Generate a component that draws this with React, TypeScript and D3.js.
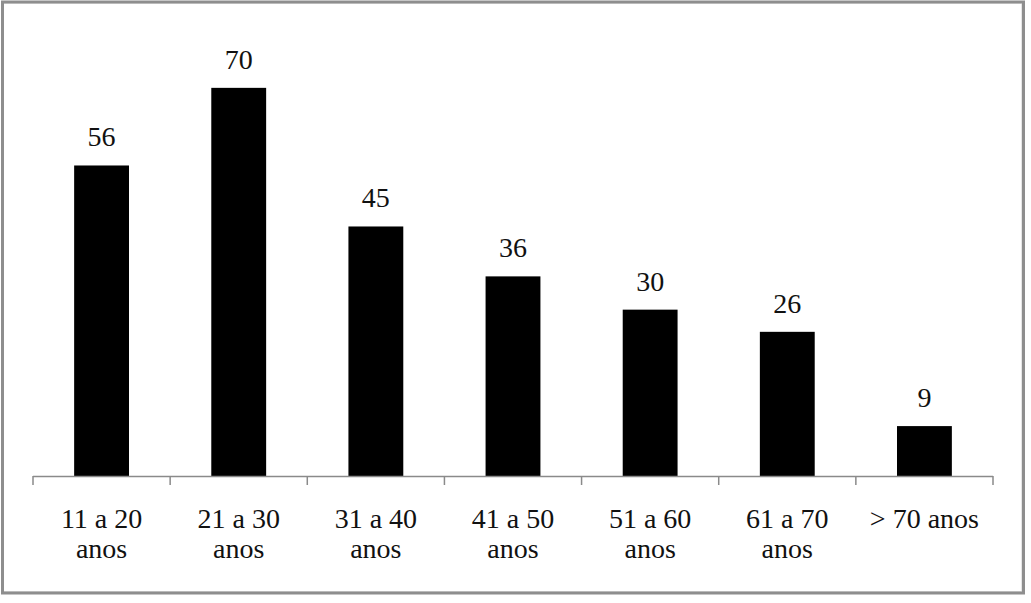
import React, { useEffect, useRef } from "react";
import * as d3 from "d3";

const categories = [
  ["11 a 20", "anos"],
  ["21 a 30", "anos"],
  ["31 a 40", "anos"],
  ["41 a 50", "anos"],
  ["51 a 60", "anos"],
  ["61 a 70", "anos"],
  ["> 70 anos"],
];
const values = [56, 70, 45, 36, 30, 26, 9];

const App = () => {
  const ref = useRef<SVGSVGElement>(null);

  useEffect(() => {
    const width = 1031;
    const height = 603;
    const svg = d3.select(ref.current);
    svg.selectAll("*").remove();

    svg.attr("width", width).attr("height", height);

    svg
      .append("rect")
      .attr("width", width)
      .attr("height", height)
      .attr("fill", "#fff");

    // frame
    svg
      .append("rect")
      .attr("x", 3.5)
      .attr("y", 3.5)
      .attr("width", 1018)
      .attr("height", 588)
      .attr("fill", "none")
      .attr("stroke", "#e6e6e6")
      .attr("stroke-width", 1);
    svg
      .append("rect")
      .attr("x", 2.5)
      .attr("y", 2)
      .attr("width", 1021)
      .attr("height", 591)
      .attr("fill", "none")
      .attr("stroke", "#8e8e8e")
      .attr("stroke-width", 3);

    const keys = categories.map((c) => c.join(" "));

    const x = d3
      .scaleBand<string>()
      .domain(keys)
      .range([33, 993])
      .paddingInner(0.6)
      .paddingOuter(0.3);

    const y = d3.scaleLinear().domain([0, 80]).range([476, 32.4]);

    const font = "Liberation Serif";

    // bars
    svg
      .selectAll("rect.bar")
      .data(values)
      .join("rect")
      .attr("class", "bar")
      .attr("x", (_, i) => x(keys[i])!)
      .attr("y", (d) => y(d))
      .attr("width", x.bandwidth())
      .attr("height", (d) => y(0) - y(d))
      .attr("fill", "#000");

    // value labels
    svg
      .selectAll("text.val")
      .data(values)
      .join("text")
      .attr("class", "val")
      .attr("x", (_, i) => x(keys[i])! + x.bandwidth() / 2)
      .attr("y", (d) => y(d) - 19)
      .attr("text-anchor", "middle")
      .attr("font-family", font)
      .attr("font-size", 28)
      .attr("fill", "#111")
      .text((d) => d);

    // axis line + ticks
    const axis = svg.append("g").attr("stroke", "#8a8a8a").attr("stroke-width", 1.5);
    axis
      .append("line")
      .attr("x1", 33)
      .attr("x2", 993)
      .attr("y1", y(0) + 0.5)
      .attr("y2", y(0) + 0.5);
    const step = x.step();
    d3.range(keys.length + 1).forEach((i) => {
      axis
        .append("line")
        .attr("x1", 33 + i * step)
        .attr("x2", 33 + i * step)
        .attr("y1", y(0))
        .attr("y2", y(0) + 9);
    });

    // category labels
    categories.forEach((lines, i) => {
      const t = svg
        .append("text")
        .attr("text-anchor", "middle")
        .attr("font-family", font)
        .attr("font-size", 28)
        .attr("fill", "#111");
      lines.forEach((ln, j) => {
        t.append("tspan")
          .attr("x", x(keys[i])! + x.bandwidth() / 2)
          .attr("y", 528 + j * 30)
          .text(ln);
      });
    });
  }, []);

  return (
    <svg
      ref={ref}
      style={{ position: "absolute", left: 0, top: 0, display: "block" }}
    />
  );
};

export default App;
